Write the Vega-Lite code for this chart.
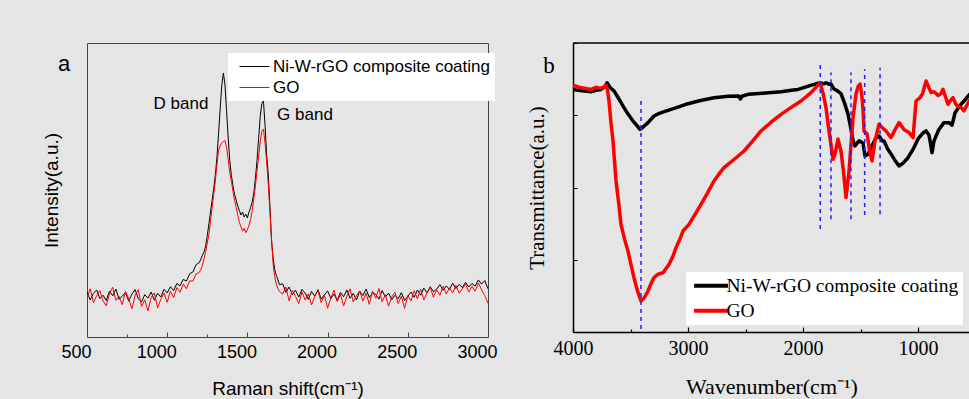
{
  "$schema": "https://vega.github.io/schema/vega-lite/v6.json",
  "background": "#e5e5e5",
  "padding": {"left": 41, "top": 42, "right": 0, "bottom": 0},
  "spacing": 28,
  "resolve": {"scale": {"color": "independent"}, "legend": {"color": "independent"}},
  "config": {
    "view": {"stroke": null},
    "axis": {"grid": false, "labelColor": "black", "titleColor": "black", "titleFontWeight": "normal"},
    "legend": {"labelColor": "black"}
  },
  "hconcat": [
    {
      "width": 401,
      "height": 294,
      "view": {"stroke": "#444444", "strokeWidth": 1},
      "layer": [
        {
          "data": {"values": [
            {"x":500,"Ni-W-rGO composite coating":15.2,"GO":13.5},
            {"x":520,"Ni-W-rGO composite coating":12.6,"GO":16.4},
            {"x":540,"Ni-W-rGO composite coating":14.8,"GO":11.7},
            {"x":560,"Ni-W-rGO composite coating":16.0,"GO":14.0},
            {"x":580,"Ni-W-rGO composite coating":13.1,"GO":15.8},
            {"x":600,"Ni-W-rGO composite coating":14.2,"GO":12.2},
            {"x":620,"Ni-W-rGO composite coating":12.4,"GO":10.6},
            {"x":640,"Ni-W-rGO composite coating":15.6,"GO":14.7},
            {"x":660,"Ni-W-rGO composite coating":14.0,"GO":16.9},
            {"x":680,"Ni-W-rGO composite coating":16.3,"GO":12.5},
            {"x":700,"Ni-W-rGO composite coating":12.8,"GO":13.8},
            {"x":720,"Ni-W-rGO composite coating":13.9,"GO":11.0},
            {"x":740,"Ni-W-rGO composite coating":15.1,"GO":15.5},
            {"x":760,"Ni-W-rGO composite coating":12.2,"GO":13.1},
            {"x":780,"Ni-W-rGO composite coating":14.6,"GO":9.6},
            {"x":800,"Ni-W-rGO composite coating":16.1,"GO":14.2},
            {"x":820,"Ni-W-rGO composite coating":13.0,"GO":16.1},
            {"x":840,"Ni-W-rGO composite coating":11.9,"GO":10.4},
            {"x":860,"Ni-W-rGO composite coating":14.4,"GO":12.7},
            {"x":880,"Ni-W-rGO composite coating":13.2,"GO":8.9},
            {"x":900,"Ni-W-rGO composite coating":15.3,"GO":13.5},
            {"x":920,"Ni-W-rGO composite coating":12.5,"GO":15.0},
            {"x":940,"Ni-W-rGO composite coating":14.9,"GO":9.9},
            {"x":960,"Ni-W-rGO composite coating":13.6,"GO":12.8},
            {"x":980,"Ni-W-rGO composite coating":16.2,"GO":14.9},
            {"x":1000,"Ni-W-rGO composite coating":15.0,"GO":11.8},
            {"x":1020,"Ni-W-rGO composite coating":17.1,"GO":15.6},
            {"x":1040,"Ni-W-rGO composite coating":15.8,"GO":13.4},
            {"x":1060,"Ni-W-rGO composite coating":18.2,"GO":16.8},
            {"x":1080,"Ni-W-rGO composite coating":17.4,"GO":15.2},
            {"x":1100,"Ni-W-rGO composite coating":19.6,"GO":18.0},
            {"x":1120,"Ni-W-rGO composite coating":19.0,"GO":16.4},
            {"x":1140,"Ni-W-rGO composite coating":21.5,"GO":19.1},
            {"x":1160,"Ni-W-rGO composite coating":22.1,"GO":19.0},
            {"x":1180,"Ni-W-rGO composite coating":24.6,"GO":21.4},
            {"x":1200,"Ni-W-rGO composite coating":25.3,"GO":22.0},
            {"x":1210,"Ni-W-rGO composite coating":26.5,"GO":23.0},
            {"x":1220,"Ni-W-rGO composite coating":27.8,"GO":24.5},
            {"x":1230,"Ni-W-rGO composite coating":29.0,"GO":26.8},
            {"x":1240,"Ni-W-rGO composite coating":31.0,"GO":29.0},
            {"x":1250,"Ni-W-rGO composite coating":34.5,"GO":32.0},
            {"x":1260,"Ni-W-rGO composite coating":38.5,"GO":35.0},
            {"x":1270,"Ni-W-rGO composite coating":42.5,"GO":39.5},
            {"x":1280,"Ni-W-rGO composite coating":46.5,"GO":44.0},
            {"x":1290,"Ni-W-rGO composite coating":50.5,"GO":48.5},
            {"x":1300,"Ni-W-rGO composite coating":55.0,"GO":53.0},
            {"x":1310,"Ni-W-rGO composite coating":61.0,"GO":58.5},
            {"x":1320,"Ni-W-rGO composite coating":69.0,"GO":63.5},
            {"x":1330,"Ni-W-rGO composite coating":77.5,"GO":65.0},
            {"x":1340,"Ni-W-rGO composite coating":85.5,"GO":66.0},
            {"x":1350,"Ni-W-rGO composite coating":89.8,"GO":66.5},
            {"x":1360,"Ni-W-rGO composite coating":86.0,"GO":66.8},
            {"x":1370,"Ni-W-rGO composite coating":77.0,"GO":64.5},
            {"x":1380,"Ni-W-rGO composite coating":68.0,"GO":60.5},
            {"x":1390,"Ni-W-rGO composite coating":60.0,"GO":56.0},
            {"x":1400,"Ni-W-rGO composite coating":55.0,"GO":53.0},
            {"x":1410,"Ni-W-rGO composite coating":51.5,"GO":49.5},
            {"x":1420,"Ni-W-rGO composite coating":48.5,"GO":46.5},
            {"x":1430,"Ni-W-rGO composite coating":46.5,"GO":44.0},
            {"x":1440,"Ni-W-rGO composite coating":44.5,"GO":41.5},
            {"x":1450,"Ni-W-rGO composite coating":43.0,"GO":39.0},
            {"x":1460,"Ni-W-rGO composite coating":41.5,"GO":37.5},
            {"x":1470,"Ni-W-rGO composite coating":42.5,"GO":36.0},
            {"x":1480,"Ni-W-rGO composite coating":40.8,"GO":37.0},
            {"x":1490,"Ni-W-rGO composite coating":41.8,"GO":35.5},
            {"x":1500,"Ni-W-rGO composite coating":40.5,"GO":36.5},
            {"x":1510,"Ni-W-rGO composite coating":42.5,"GO":38.0},
            {"x":1520,"Ni-W-rGO composite coating":44.0,"GO":40.0},
            {"x":1530,"Ni-W-rGO composite coating":46.0,"GO":43.0},
            {"x":1540,"Ni-W-rGO composite coating":49.0,"GO":47.0},
            {"x":1550,"Ni-W-rGO composite coating":54.0,"GO":51.5},
            {"x":1560,"Ni-W-rGO composite coating":60.0,"GO":56.5},
            {"x":1570,"Ni-W-rGO composite coating":67.5,"GO":61.5},
            {"x":1580,"Ni-W-rGO composite coating":75.0,"GO":66.5},
            {"x":1590,"Ni-W-rGO composite coating":79.5,"GO":70.0},
            {"x":1600,"Ni-W-rGO composite coating":80.3,"GO":70.7},
            {"x":1610,"Ni-W-rGO composite coating":72.0,"GO":66.0},
            {"x":1620,"Ni-W-rGO composite coating":62.0,"GO":59.5},
            {"x":1630,"Ni-W-rGO composite coating":55.5,"GO":52.0},
            {"x":1640,"Ni-W-rGO composite coating":45.0,"GO":43.0},
            {"x":1650,"Ni-W-rGO composite coating":33.0,"GO":34.0},
            {"x":1660,"Ni-W-rGO composite coating":27.0,"GO":25.0},
            {"x":1670,"Ni-W-rGO composite coating":23.0,"GO":20.5},
            {"x":1680,"Ni-W-rGO composite coating":21.0,"GO":18.0},
            {"x":1690,"Ni-W-rGO composite coating":19.5,"GO":16.5},
            {"x":1700,"Ni-W-rGO composite coating":17.8,"GO":15.5},
            {"x":1720,"Ni-W-rGO composite coating":18.1,"GO":14.6},
            {"x":1740,"Ni-W-rGO composite coating":15.2,"GO":17.0},
            {"x":1760,"Ni-W-rGO composite coating":17.0,"GO":12.3},
            {"x":1780,"Ni-W-rGO composite coating":14.4,"GO":15.9},
            {"x":1800,"Ni-W-rGO composite coating":15.9,"GO":13.8},
            {"x":1820,"Ni-W-rGO composite coating":13.6,"GO":11.4},
            {"x":1840,"Ni-W-rGO composite coating":16.2,"GO":15.3},
            {"x":1860,"Ni-W-rGO composite coating":14.9,"GO":12.6},
            {"x":1880,"Ni-W-rGO composite coating":12.8,"GO":14.7},
            {"x":1900,"Ni-W-rGO composite coating":15.5,"GO":10.9},
            {"x":1920,"Ni-W-rGO composite coating":13.9,"GO":13.9},
            {"x":1940,"Ni-W-rGO composite coating":16.1,"GO":15.8},
            {"x":1960,"Ni-W-rGO composite coating":12.9,"GO":11.7},
            {"x":1980,"Ni-W-rGO composite coating":14.3,"GO":14.2},
            {"x":2000,"Ni-W-rGO composite coating":15.7,"GO":9.8},
            {"x":2020,"Ni-W-rGO composite coating":13.1,"GO":13.3},
            {"x":2040,"Ni-W-rGO composite coating":14.6,"GO":15.9},
            {"x":2060,"Ni-W-rGO composite coating":12.5,"GO":12.1},
            {"x":2080,"Ni-W-rGO composite coating":15.2,"GO":14.5},
            {"x":2100,"Ni-W-rGO composite coating":13.7,"GO":10.6},
            {"x":2120,"Ni-W-rGO composite coating":16.0,"GO":13.8},
            {"x":2140,"Ni-W-rGO composite coating":13.2,"GO":16.4},
            {"x":2160,"Ni-W-rGO composite coating":14.8,"GO":11.9},
            {"x":2180,"Ni-W-rGO composite coating":12.6,"GO":14.0},
            {"x":2200,"Ni-W-rGO composite coating":15.6,"GO":15.7},
            {"x":2220,"Ni-W-rGO composite coating":14.1,"GO":12.2},
            {"x":2240,"Ni-W-rGO composite coating":16.3,"GO":14.9},
            {"x":2260,"Ni-W-rGO composite coating":13.4,"GO":11.1},
            {"x":2280,"Ni-W-rGO composite coating":15.0,"GO":15.6},
            {"x":2300,"Ni-W-rGO composite coating":14.5,"GO":13.2},
            {"x":2320,"Ni-W-rGO composite coating":12.9,"GO":16.5},
            {"x":2340,"Ni-W-rGO composite coating":15.8,"GO":12.0},
            {"x":2360,"Ni-W-rGO composite coating":13.6,"GO":14.4},
            {"x":2380,"Ni-W-rGO composite coating":14.9,"GO":10.5},
            {"x":2400,"Ni-W-rGO composite coating":12.7,"GO":13.6},
            {"x":2420,"Ni-W-rGO composite coating":14.2,"GO":15.2},
            {"x":2440,"Ni-W-rGO composite coating":13.0,"GO":11.4},
            {"x":2460,"Ni-W-rGO composite coating":15.1,"GO":13.9},
            {"x":2480,"Ni-W-rGO composite coating":12.4,"GO":9.7},
            {"x":2500,"Ni-W-rGO composite coating":13.8,"GO":14.1},
            {"x":2520,"Ni-W-rGO composite coating":15.3,"GO":12.3},
            {"x":2540,"Ni-W-rGO composite coating":13.5,"GO":15.8},
            {"x":2560,"Ni-W-rGO composite coating":16.0,"GO":13.0},
            {"x":2580,"Ni-W-rGO composite coating":14.2,"GO":16.3},
            {"x":2600,"Ni-W-rGO composite coating":16.6,"GO":12.6},
            {"x":2620,"Ni-W-rGO composite coating":15.0,"GO":15.1},
            {"x":2640,"Ni-W-rGO composite coating":17.1,"GO":17.0},
            {"x":2660,"Ni-W-rGO composite coating":15.4,"GO":13.5},
            {"x":2680,"Ni-W-rGO composite coating":16.3,"GO":16.1},
            {"x":2700,"Ni-W-rGO composite coating":17.8,"GO":14.2},
            {"x":2720,"Ni-W-rGO composite coating":15.9,"GO":17.3},
            {"x":2740,"Ni-W-rGO composite coating":17.4,"GO":14.6},
            {"x":2760,"Ni-W-rGO composite coating":16.2,"GO":16.7},
            {"x":2780,"Ni-W-rGO composite coating":18.3,"GO":15.0},
            {"x":2800,"Ni-W-rGO composite coating":16.5,"GO":17.6},
            {"x":2820,"Ni-W-rGO composite coating":17.9,"GO":14.9},
            {"x":2840,"Ni-W-rGO composite coating":16.8,"GO":16.4},
            {"x":2860,"Ni-W-rGO composite coating":18.6,"GO":18.1},
            {"x":2880,"Ni-W-rGO composite coating":17.0,"GO":15.3},
            {"x":2900,"Ni-W-rGO composite coating":18.2,"GO":17.2},
            {"x":2920,"Ni-W-rGO composite coating":17.3,"GO":15.6},
            {"x":2940,"Ni-W-rGO composite coating":19.4,"GO":18.4},
            {"x":2960,"Ni-W-rGO composite coating":18.0,"GO":16.0},
            {"x":2980,"Ni-W-rGO composite coating":19.2,"GO":14.1},
            {"x":3000,"Ni-W-rGO composite coating":16.4,"GO":11.5}
          ]},
          "transform": [{"fold": ["Ni-W-rGO composite coating", "GO"], "as": ["series", "intensity"]}],
          "mark": {"type": "line", "strokeWidth": 1, "clip": true},
          "encoding": {
            "x": {
              "field": "x", "type": "quantitative",
              "scale": {"domain": [500, 3000], "nice": false, "zero": false},
              "axis": {
                "values": [500, 750, 1000, 1250, 1500, 1750, 2000, 2250, 2500, 2750, 3000],
                "labelExpr": "datum.value % 500 == 0 ? datum.label : ''",
                "format": "d",
                "tickSize": {"condition": {"test": "datum.value % 500 != 0", "value": -3}, "value": -5},
                "tickColor": "#444444",
                "domain": false,
                "labelFont": "Liberation Sans", "labelFontSize": 18, "labelPadding": 11, "labelOffset": -11,
                "labelFlush": false, "labelOverlap": false,
                "title": "Raman shift(cm⁻¹)", "titleFont": "Liberation Sans", "titleFontSize": 19, "titlePadding": 16
              }
            },
            "y": {
              "field": "intensity", "type": "quantitative",
              "scale": {"domain": [0, 100], "nice": false, "zero": false},
              "axis": {"ticks": false, "labels": false, "domain": false, "title": "Intensity(a.u.)", "titleFont": "Liberation Sans", "titleFontSize": 19, "titlePadding": 26}
            },
            "color": {
              "field": "series", "type": "nominal",
              "scale": {"domain": ["Ni-W-rGO composite coating", "GO"], "range": ["#000000", "#ff0000"]},
              "legend": {
                "orient": "none", "legendX": 141, "legendY": 10, "title": null,
                "fillColor": "white", "padding": 5,
                "symbolType": "M-3,0H3", "symbolSize": 100, "symbolStrokeWidth": 1, "symbolOffset": 13,
                "labelOffset": 10,
                "labelFont": "Liberation Sans", "labelFontSize": 17, "labelLimit": 400, "rowPadding": 3
              }
            }
          }
        },
        {
          "data": {"values": [{"x": 1086, "y": 79.3, "label": "D band"}, {"x": 1859, "y": 75.5, "label": "G band"}]},
          "mark": {"type": "text", "font": "Liberation Sans", "fontSize": 17, "color": "black"},
          "encoding": {
            "x": {"field": "x", "type": "quantitative"},
            "y": {"field": "y", "type": "quantitative"},
            "text": {"field": "label"}
          }
        },
        {
          "data": {"values": [{"x": 357, "y": 92.9, "label": "a"}]},
          "mark": {"type": "text", "font": "Liberation Sans", "fontSize": 22, "color": "black"},
          "encoding": {
            "x": {"field": "x", "type": "quantitative"},
            "y": {"field": "y", "type": "quantitative"},
            "text": {"field": "label"}
          }
        }
      ]
    },
    {
      "width": 397,
      "height": 289,
      "layer": [
        {
          "data": {"values": [
            {"series":"Ni-W-rGO composite coating","w":4000,"t":13.43},
            {"series":"Ni-W-rGO composite coating","w":3920,"t":13.35},
            {"series":"Ni-W-rGO composite coating","w":3843,"t":13.30},
            {"series":"Ni-W-rGO composite coating","w":3800,"t":13.38},
            {"series":"Ni-W-rGO composite coating","w":3757,"t":13.43},
            {"series":"Ni-W-rGO composite coating","w":3720,"t":13.60},
            {"series":"Ni-W-rGO composite coating","w":3704,"t":13.80},
            {"series":"Ni-W-rGO composite coating","w":3680,"t":13.55},
            {"series":"Ni-W-rGO composite coating","w":3643,"t":13.34},
            {"series":"Ni-W-rGO composite coating","w":3600,"t":12.90},
            {"series":"Ni-W-rGO composite coating","w":3557,"t":12.42},
            {"series":"Ni-W-rGO composite coating","w":3520,"t":12.05},
            {"series":"Ni-W-rGO composite coating","w":3478,"t":11.68},
            {"series":"Ni-W-rGO composite coating","w":3440,"t":11.40},
            {"series":"Ni-W-rGO composite coating","w":3417,"t":11.22},
            {"series":"Ni-W-rGO composite coating","w":3390,"t":11.35},
            {"series":"Ni-W-rGO composite coating","w":3348,"t":11.59},
            {"series":"Ni-W-rGO composite coating","w":3296,"t":11.96},
            {"series":"Ni-W-rGO composite coating","w":3250,"t":12.10},
            {"series":"Ni-W-rGO composite coating","w":3174,"t":12.27},
            {"series":"Ni-W-rGO composite coating","w":3100,"t":12.42},
            {"series":"Ni-W-rGO composite coating","w":3000,"t":12.64},
            {"series":"Ni-W-rGO composite coating","w":2900,"t":12.80},
            {"series":"Ni-W-rGO composite coating","w":2774,"t":12.97},
            {"series":"Ni-W-rGO composite coating","w":2650,"t":13.05},
            {"series":"Ni-W-rGO composite coating","w":2560,"t":13.07},
            {"series":"Ni-W-rGO composite coating","w":2545,"t":12.90},
            {"series":"Ni-W-rGO composite coating","w":2530,"t":13.05},
            {"series":"Ni-W-rGO composite coating","w":2478,"t":13.16},
            {"series":"Ni-W-rGO composite coating","w":2350,"t":13.22},
            {"series":"Ni-W-rGO composite coating","w":2191,"t":13.30},
            {"series":"Ni-W-rGO composite coating","w":2100,"t":13.38},
            {"series":"Ni-W-rGO composite coating","w":2043,"t":13.43},
            {"series":"Ni-W-rGO composite coating","w":1960,"t":13.60},
            {"series":"Ni-W-rGO composite coating","w":1904,"t":13.71},
            {"series":"Ni-W-rGO composite coating","w":1852,"t":13.80},
            {"series":"Ni-W-rGO composite coating","w":1820,"t":13.74},
            {"series":"Ni-W-rGO composite coating","w":1800,"t":13.80},
            {"series":"Ni-W-rGO composite coating","w":1775,"t":13.72},
            {"series":"Ni-W-rGO composite coating","w":1757,"t":13.73},
            {"series":"Ni-W-rGO composite coating","w":1730,"t":13.45},
            {"series":"Ni-W-rGO composite coating","w":1700,"t":13.35},
            {"series":"Ni-W-rGO composite coating","w":1670,"t":13.20},
            {"series":"Ni-W-rGO composite coating","w":1640,"t":12.70},
            {"series":"Ni-W-rGO composite coating","w":1609,"t":12.07},
            {"series":"Ni-W-rGO composite coating","w":1585,"t":11.30},
            {"series":"Ni-W-rGO composite coating","w":1565,"t":10.58},
            {"series":"Ni-W-rGO composite coating","w":1548,"t":10.30},
            {"series":"Ni-W-rGO composite coating","w":1530,"t":10.45},
            {"series":"Ni-W-rGO composite coating","w":1513,"t":10.58},
            {"series":"Ni-W-rGO composite coating","w":1490,"t":10.50},
            {"series":"Ni-W-rGO composite coating","w":1478,"t":10.45},
            {"series":"Ni-W-rGO composite coating","w":1461,"t":9.75},
            {"series":"Ni-W-rGO composite coating","w":1435,"t":9.84},
            {"series":"Ni-W-rGO composite coating","w":1409,"t":10.20},
            {"series":"Ni-W-rGO composite coating","w":1370,"t":10.70},
            {"series":"Ni-W-rGO composite coating","w":1339,"t":10.85},
            {"series":"Ni-W-rGO composite coating","w":1310,"t":10.58},
            {"series":"Ni-W-rGO composite coating","w":1296,"t":10.58},
            {"series":"Ni-W-rGO composite coating","w":1265,"t":10.15},
            {"series":"Ni-W-rGO composite coating","w":1235,"t":9.86},
            {"series":"Ni-W-rGO composite coating","w":1200,"t":9.50},
            {"series":"Ni-W-rGO composite coating","w":1165,"t":9.19},
            {"series":"Ni-W-rGO composite coating","w":1130,"t":9.35},
            {"series":"Ni-W-rGO composite coating","w":1087,"t":9.65},
            {"series":"Ni-W-rGO composite coating","w":1040,"t":10.15},
            {"series":"Ni-W-rGO composite coating","w":1000,"t":10.69},
            {"series":"Ni-W-rGO composite coating","w":960,"t":11.00},
            {"series":"Ni-W-rGO composite coating","w":930,"t":11.13},
            {"series":"Ni-W-rGO composite coating","w":905,"t":10.90},
            {"series":"Ni-W-rGO composite coating","w":896,"t":10.60},
            {"series":"Ni-W-rGO composite coating","w":878,"t":9.93},
            {"series":"Ni-W-rGO composite coating","w":861,"t":10.58},
            {"series":"Ni-W-rGO composite coating","w":820,"t":11.20},
            {"series":"Ni-W-rGO composite coating","w":774,"t":11.59},
            {"series":"Ni-W-rGO composite coating","w":730,"t":11.59},
            {"series":"Ni-W-rGO composite coating","w":704,"t":11.45},
            {"series":"Ni-W-rGO composite coating","w":678,"t":12.14},
            {"series":"Ni-W-rGO composite coating","w":640,"t":12.50},
            {"series":"Ni-W-rGO composite coating","w":600,"t":12.79},
            {"series":"Ni-W-rGO composite coating","w":548,"t":13.18},
            {"series":"GO","w":4000,"t":13.66},
            {"series":"GO","w":3950,"t":13.55},
            {"series":"GO","w":3900,"t":13.50},
            {"series":"GO","w":3843,"t":13.43},
            {"series":"GO","w":3800,"t":13.55},
            {"series":"GO","w":3757,"t":13.49},
            {"series":"GO","w":3730,"t":13.58},
            {"series":"GO","w":3713,"t":13.67},
            {"series":"GO","w":3700,"t":13.40},
            {"series":"GO","w":3687,"t":12.79},
            {"series":"GO","w":3670,"t":11.60},
            {"series":"GO","w":3652,"t":10.57},
            {"series":"GO","w":3626,"t":8.36},
            {"series":"GO","w":3600,"t":7.00},
            {"series":"GO","w":3583,"t":5.96},
            {"series":"GO","w":3550,"t":5.10},
            {"series":"GO","w":3522,"t":4.48},
            {"series":"GO","w":3470,"t":3.01},
            {"series":"GO","w":3440,"t":2.30},
            {"series":"GO","w":3409,"t":1.72},
            {"series":"GO","w":3380,"t":1.90},
            {"series":"GO","w":3348,"t":2.27},
            {"series":"GO","w":3320,"t":2.70},
            {"series":"GO","w":3296,"t":3.01},
            {"series":"GO","w":3260,"t":3.20},
            {"series":"GO","w":3217,"t":3.28},
            {"series":"GO","w":3165,"t":3.75},
            {"series":"GO","w":3130,"t":4.20},
            {"series":"GO","w":3104,"t":4.67},
            {"series":"GO","w":3070,"t":5.15},
            {"series":"GO","w":3043,"t":5.59},
            {"series":"GO","w":2991,"t":5.96},
            {"series":"GO","w":2940,"t":6.50},
            {"series":"GO","w":2887,"t":7.07},
            {"series":"GO","w":2830,"t":7.70},
            {"series":"GO","w":2774,"t":8.36},
            {"series":"GO","w":2730,"t":8.75},
            {"series":"GO","w":2687,"t":9.10},
            {"series":"GO","w":2600,"t":9.55},
            {"series":"GO","w":2513,"t":10.02},
            {"series":"GO","w":2440,"t":10.55},
            {"series":"GO","w":2365,"t":11.13},
            {"series":"GO","w":2280,"t":11.60},
            {"series":"GO","w":2191,"t":12.05},
            {"series":"GO","w":2100,"t":12.45},
            {"series":"GO","w":2017,"t":12.79},
            {"series":"GO","w":1930,"t":13.25},
            {"series":"GO","w":1880,"t":13.60},
            {"series":"GO","w":1852,"t":13.80},
            {"series":"GO","w":1825,"t":13.20},
            {"series":"GO","w":1800,"t":12.42},
            {"series":"GO","w":1774,"t":11.13},
            {"series":"GO","w":1739,"t":9.56},
            {"series":"GO","w":1720,"t":9.90},
            {"series":"GO","w":1696,"t":10.69},
            {"series":"GO","w":1670,"t":10.02},
            {"series":"GO","w":1650,"t":9.00},
            {"series":"GO","w":1626,"t":7.44},
            {"series":"GO","w":1600,"t":8.91},
            {"series":"GO","w":1580,"t":10.60},
            {"series":"GO","w":1565,"t":11.87},
            {"series":"GO","w":1539,"t":13.18},
            {"series":"GO","w":1520,"t":13.60},
            {"series":"GO","w":1504,"t":13.73},
            {"series":"GO","w":1490,"t":13.20},
            {"series":"GO","w":1478,"t":12.30},
            {"series":"GO","w":1470,"t":11.13},
            {"series":"GO","w":1443,"t":10.96},
            {"series":"GO","w":1420,"t":10.00},
            {"series":"GO","w":1400,"t":9.47},
            {"series":"GO","w":1374,"t":10.58},
            {"series":"GO","w":1339,"t":11.50},
            {"series":"GO","w":1310,"t":11.30},
            {"series":"GO","w":1278,"t":11.13},
            {"series":"GO","w":1235,"t":10.76},
            {"series":"GO","w":1200,"t":11.20},
            {"series":"GO","w":1165,"t":11.59},
            {"series":"GO","w":1120,"t":11.20},
            {"series":"GO","w":1078,"t":11.04},
            {"series":"GO","w":1043,"t":10.76},
            {"series":"GO","w":1017,"t":12.79},
            {"series":"GO","w":983,"t":12.97},
            {"series":"GO","w":960,"t":13.20},
            {"series":"GO","w":930,"t":13.90},
            {"series":"GO","w":910,"t":13.60},
            {"series":"GO","w":887,"t":13.25},
            {"series":"GO","w":860,"t":13.30},
            {"series":"GO","w":826,"t":13.10},
            {"series":"GO","w":800,"t":13.20},
            {"series":"GO","w":783,"t":13.44},
            {"series":"GO","w":760,"t":13.00},
            {"series":"GO","w":739,"t":12.61},
            {"series":"GO","w":720,"t":12.80},
            {"series":"GO","w":696,"t":12.97},
            {"series":"GO","w":670,"t":12.60},
            {"series":"GO","w":652,"t":12.50},
            {"series":"GO","w":620,"t":12.40},
            {"series":"GO","w":600,"t":12.24},
            {"series":"GO","w":580,"t":12.50},
            {"series":"GO","w":548,"t":12.88}
          ]},
          "mark": {"type": "line", "strokeWidth": 3.5, "clip": true, "strokeJoin": "round"},
          "encoding": {
            "x": {
              "field": "w", "type": "quantitative",
              "scale": {"domain": [4000, 548], "nice": false, "zero": false},
              "axis": {
                "values": [4000, 3500, 3000, 2500, 2000, 1500, 1000],
                "labelExpr": "datum.value % 1000 == 0 ? datum.label : ''",
                "format": "d",
                "tickSize": {"condition": {"test": "datum.value % 1000 != 0", "value": -3}, "value": -5},
                "tickColor": "black", "tickWidth": 1.2,
                "domainColor": "black", "domainWidth": 1.5,
                "labelFont": "Liberation Serif", "labelFontSize": 20, "labelPadding": 11,
                "labelFlush": false, "labelOverlap": false,
                "title": "Wavenumber(cm⁻¹)", "titleFont": "Liberation Serif", "titleFontSize": 22, "titlePadding": 16
              }
            },
            "y": {
              "field": "t", "type": "quantitative",
              "scale": {"domain": [0, 16], "nice": false, "zero": false},
              "axis": {
                "values": [0, 1, 2, 3, 4, 5, 6, 7, 8, 9, 10, 11, 12, 13, 14, 15, 16],
                "labels": false, "tickSize": -4, "tickColor": "black",
                "domainColor": "black", "domainWidth": 1.5,
                "title": "Transmittance(a.u.)", "titleFont": "Liberation Serif", "titleFontSize": 21, "titlePadding": 25
              }
            },
            "color": {
              "field": "series", "type": "nominal",
              "scale": {"domain": ["Ni-W-rGO composite coating", "GO"], "range": ["#000000", "#ff0000"]},
              "legend": {
                "orient": "none", "legendX": 113, "legendY": 229, "title": null,
                "fillColor": "white", "padding": 4,
                "symbolType": "M-3,0H3", "symbolSize": 128, "symbolStrokeWidth": 4, "symbolOffset": 11.3,
                "labelOffset": 5.7,
                "labelFont": "Liberation Serif", "labelFontSize": 19.5, "labelLimit": 400, "rowPadding": 4
              }
            }
          }
        },
        {
          "data": {"values": [
            {"w": 3409, "t1": 0.17, "t2": 12.79},
            {"w": 1850, "t1": 5.70, "t2": 14.91},
            {"w": 1757, "t1": 6.24, "t2": 14.36},
            {"w": 1583, "t1": 6.24, "t2": 14.36},
            {"w": 1464, "t1": 6.48, "t2": 14.55},
            {"w": 1330, "t1": 6.52, "t2": 14.63}
          ]},
          "mark": {"type": "rule", "color": "#1f1fff", "strokeDash": [4, 4], "strokeWidth": 1.5},
          "encoding": {
            "x": {"field": "w", "type": "quantitative"},
            "y": {"field": "t1", "type": "quantitative"},
            "y2": {"field": "t2"}
          }
        },
        {
          "data": {"values": [{"top": 16}]},
          "mark": {"type": "rule", "color": "black", "strokeWidth": 1.5},
          "encoding": {"y": {"field": "top", "type": "quantitative"}}
        },
        {
          "data": {"values": [{"w": 4209, "t": 14.73, "label": "b"}]},
          "mark": {"type": "text", "font": "Liberation Serif", "fontSize": 23, "color": "black"},
          "encoding": {
            "x": {"field": "w", "type": "quantitative"},
            "y": {"field": "t", "type": "quantitative"},
            "text": {"field": "label"}
          }
        }
      ]
    }
  ]
}
